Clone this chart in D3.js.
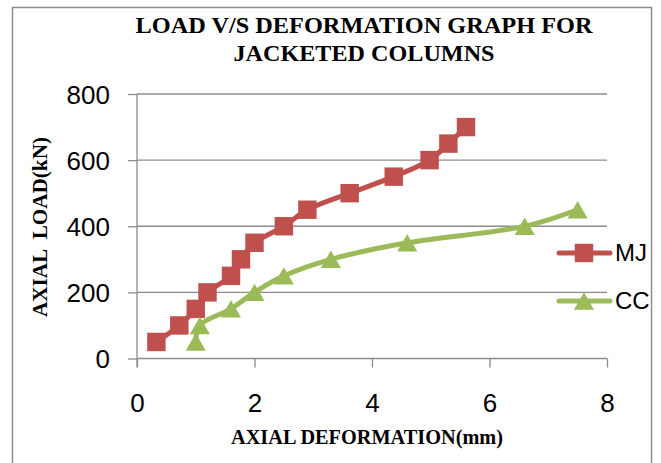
<!DOCTYPE html>
<html><head><meta charset="utf-8">
<script src="https://cdn.jsdelivr.net/npm/d3@7"></script>
<style>body{margin:0;background:#fff}svg{display:block}</style>
</head><body>
<svg id="chart" width="661" height="463"></svg>
<script>
const titleLines = ["LOAD V/S DEFORMATION GRAPH FOR", "JACKETED COLUMNS"];
const xTitle = "AXIAL DEFORMATION(mm)";
const yTitle = "AXIAL  LOAD(kN)";
const seriesNames = ["MJ", "CC"];
const seriesColors = ["#C0504D", "#9BBB59"];
const mjX = [0.33, 0.72, 1.0, 1.2, 1.6, 1.77, 2.0, 2.5, 2.9, 3.62, 4.37, 4.98, 5.3, 5.6];
const mjY = [50, 100, 150, 200, 250, 300, 350, 400, 450, 500, 550, 600, 650, 700];
const ccX = [1.0, 1.07, 1.6, 2.0, 2.5, 3.3, 4.6, 6.6, 7.5];
const ccY = [50, 100, 150, 200, 250, 300, 350, 400, 450];
const xTicks = [0, 2, 4, 6, 8];
const yTicks = [0, 200, 400, 600, 800];

const svg = d3.select("#chart");
const SERIF = "'Liberation Serif','Times New Roman',serif";
const NARROW = "'Liberation Sans Narrow','Arial Narrow','Liberation Sans',sans-serif";

svg.append("rect").attr("x", 12.5).attr("y", 7.5).attr("width", 639).attr("height", 470)
  .attr("fill", "#fff").attr("stroke", "#8c8c8c").attr("stroke-width", 1.5);

const x = d3.scaleLinear().domain([0, 8]).range([137, 607]);
const y = d3.scaleLinear().domain([0, 800]).range([358.5, 94]);
const axisColor = "#8c8c8c";

function fit(sel, w) {
  sel.attr("textLength", w).attr("lengthAdjust", "spacingAndGlyphs");
}

// gridlines
svg.append("g").selectAll("line").data(yTicks.filter(d => d > 0)).join("line")
  .attr("x1", x(0)).attr("x2", x(8)).attr("y1", d => y(d)).attr("y2", d => y(d))
  .attr("stroke", axisColor).attr("stroke-width", 1.3);

// y axis
const yAxis = svg.append("g").attr("transform", `translate(${x(0)},0)`)
  .call(d3.axisLeft(y).tickValues(yTicks).tickSize(9).tickPadding(18).tickFormat(d3.format("d")));
yAxis.select(".domain").attr("stroke", axisColor).attr("stroke-width", 1.3)
  .attr("d", `M0,${y(800)}V${y(0) + 9}`);
yAxis.selectAll(".tick line").attr("stroke", axisColor).attr("stroke-width", 1.3);
yAxis.selectAll(".tick text").attr("font-family", NARROW)
  .attr("font-size", 26).attr("fill", "#000").attr("dy", "0.36em");

// x axis
const xAxis = svg.append("g").attr("transform", `translate(0,${y(0)})`)
  .call(d3.axisBottom(x).tickValues(xTicks).tickSize(9).tickPadding(26).tickFormat(d3.format("d")));
xAxis.select(".domain").attr("stroke", axisColor).attr("stroke-width", 1.3)
  .attr("d", `M${x(0)},0H${x(8)}`);
xAxis.selectAll(".tick line").attr("stroke", axisColor).attr("stroke-width", 1.3);
xAxis.selectAll(".tick text").attr("font-family", NARROW)
  .attr("font-size", 26).attr("fill", "#000");

// titles
const titleWidths = [457, 261];
titleLines.forEach((t, i) => {
  svg.append("text").attr("x", 364).attr("y", 33 + i * 28).attr("text-anchor", "middle")
    .attr("font-family", SERIF).attr("font-weight", "bold").attr("font-size", 24).attr("fill", "#000")
    .text(t).call(fit, titleWidths[i]);
});

svg.append("text").attr("x", 367).attr("y", 444).attr("text-anchor", "middle")
  .attr("font-family", SERIF).attr("font-weight", "bold")
  .attr("font-size", 20).attr("fill", "#000").text(xTitle).call(fit, 272);

svg.append("text").attr("transform", "translate(47,227) rotate(-90)").attr("text-anchor", "middle")
  .attr("font-family", SERIF).attr("font-weight", "bold")
  .attr("font-size", 20).attr("fill", "#000").style("white-space", "pre").text(yTitle).call(fit, 180);

// series
const series = [
  { name: seriesNames[0], color: seriesColors[0], xs: mjX, ys: mjY, shape: d3.symbolSquare, size: 340 },
  { name: seriesNames[1], color: seriesColors[1], xs: ccX, ys: ccY, shape: d3.symbolTriangle, size: 175 }
];
const shift = s => s.shape === d3.symbolTriangle ? Math.sqrt(s.size / (3 * Math.sqrt(3))) / 2 : 0;
const line = d3.line().x(d => x(d[0])).y(d => y(d[1])).curve(d3.curveCatmullRom.alpha(0.5));
series.forEach(s => {
  const pts = s.xs.map((v, i) => [v, s.ys[i]]);
  svg.append("path").datum(pts).attr("d", line).attr("fill", "none")
    .attr("stroke", s.color).attr("stroke-width", 5).attr("stroke-linejoin", "round").attr("stroke-linecap", "round");
});
series.forEach(s => {
  const pts = s.xs.map((v, i) => [v, s.ys[i]]);
  svg.append("g").selectAll("path").data(pts).join("path")
    .attr("transform", d => `translate(${x(d[0])},${y(d[1]) + shift(s)})`)
    .attr("d", d3.symbol().type(s.shape).size(s.size)).attr("fill", s.color);
});

// legend
series.forEach((s, i) => {
  const ly = 253 + i * 48;
  const g = svg.append("g");
  g.append("line").attr("x1", 559).attr("x2", 610).attr("y1", ly).attr("y2", ly)
    .attr("stroke", s.color).attr("stroke-width", 5).attr("stroke-linecap", "round");
  g.append("path").attr("transform", `translate(584,${ly + shift(s)})`)
    .attr("d", d3.symbol().type(s.shape).size(s.size)).attr("fill", s.color);
  g.append("text").attr("x", 615).attr("y", ly + 8)
    .attr("font-family", NARROW).attr("font-size", 24).attr("fill", "#000").text(s.name);
});
</script>
</body></html>
